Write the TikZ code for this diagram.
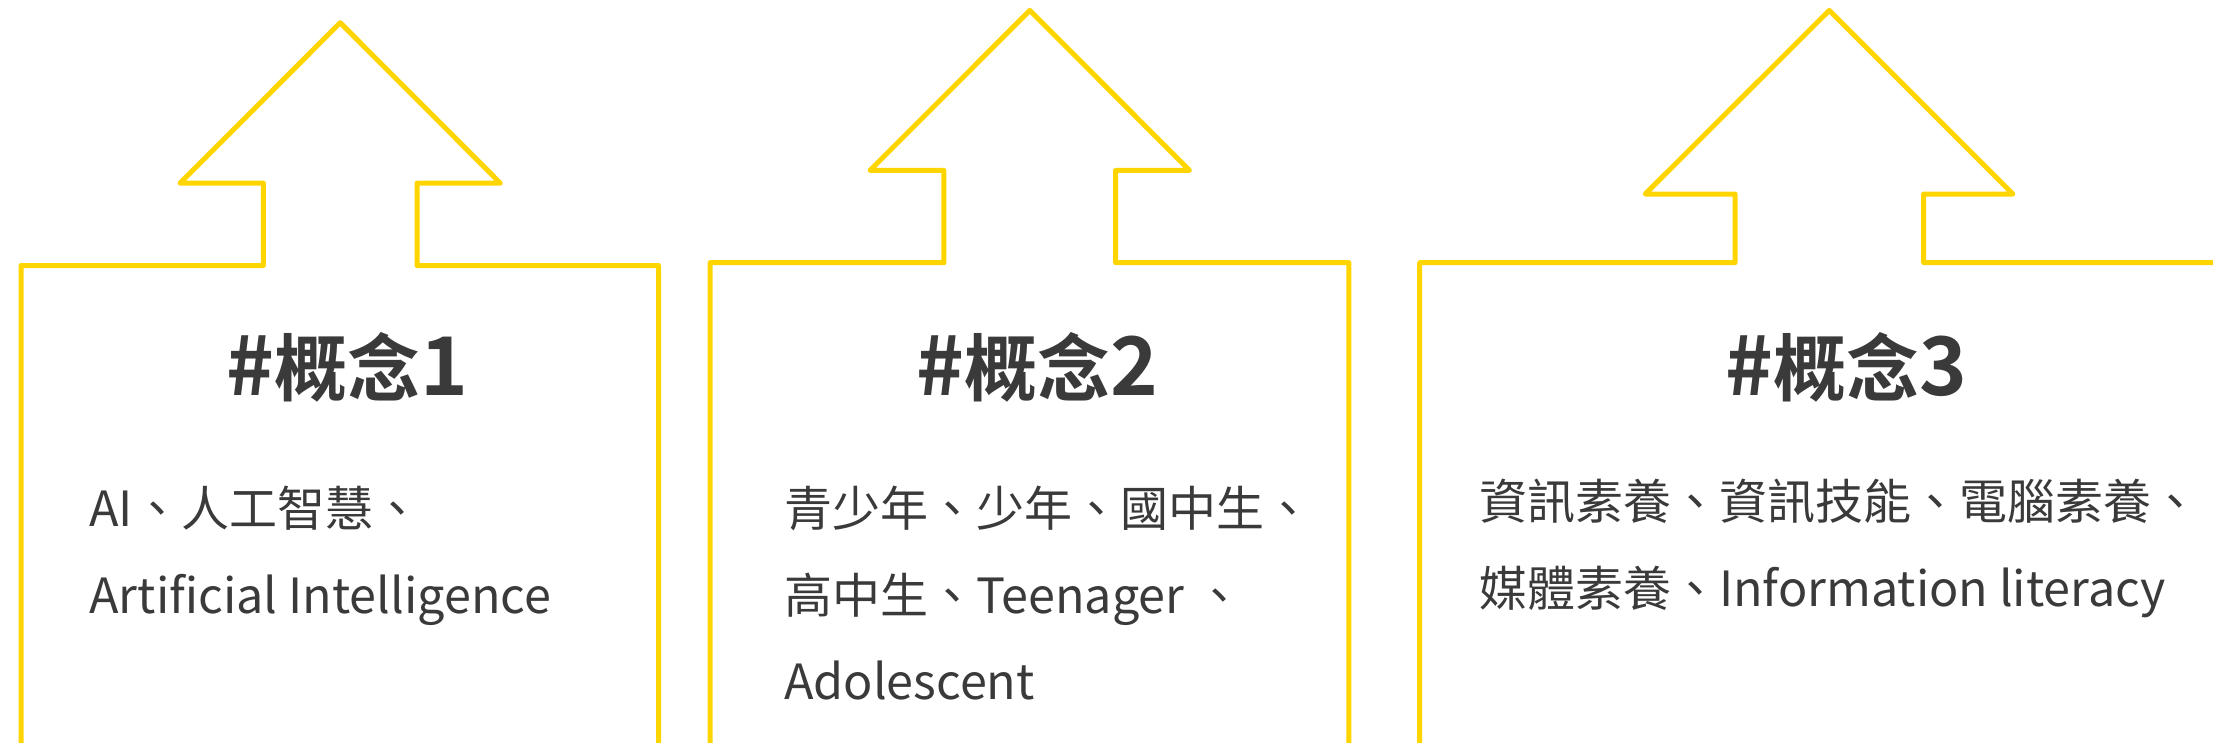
\documentclass[tikz,border=0pt]{standalone}
\usepackage{fontspec}
\newfontfamily\cjk{Noto Sans CJK TC}[BoldFont={Noto Sans CJK TC Bold}]
\newcommand\latn[1]{{\fontsize{48.5}{60}\selectfont #1}}
\newcommand\tlatn[1]{{\fontsize{81}{90}\selectfont #1}}
\definecolor{gold}{HTML}{FFD500}
\definecolor{ink}{HTML}{3A3A3A}
\begin{document}
\begin{tikzpicture}[x=1pt,y=-1pt,
  outline/.style={draw=gold,line width=5pt,line join=round,line cap=round},
  title/.style={anchor=base,text=ink,inner sep=0pt,font=\cjk\bfseries\fontsize{73}{80}\selectfont},
  body/.style={anchor=base west,text=ink,inner sep=0pt,font=\cjk\fontsize{48}{60}\selectfont}]
\useasboundingbox (0,0) rectangle (2213,742);
\clip (0,0) rectangle (2213,742);
% arrows
\draw[outline] (21,780) -- (21,265.5) -- (263.4,265.5) -- (263.4,183.2) -- (180,183.2) -- (340.2,22.7) -- (500.4,183.2) -- (417,183.2) -- (417,265.5) -- (658.5,265.5) -- (658.5,780);
\draw[outline] (710.2,780) -- (710.2,262.7) -- (943.9,262.7) -- (943.9,170.4) -- (870,170.4) -- (1029.8,10.4) -- (1189.5,170.4) -- (1115.6,170.4) -- (1115.6,262.7) -- (1348.9,262.7) -- (1348.9,780);
\draw[outline] (1419.7,780) -- (1419.7,262.7) -- (1735,262.7) -- (1735,194) -- (1645.2,194) -- (1829.3,10.4) -- (2012.9,194) -- (1923.7,194) -- (1923.7,262.7) -- (2240,262.7);
% titles
\node[title] (h1) at (347.6,395) {\tlatn{\#}概念\tlatn{1}};
\node[title] (h2) at (1037,395) {\tlatn{\#}概念\tlatn{2}};
\node[title] (h3) at (1846.7,395) {\tlatn{\#}概念\tlatn{3}};
% bodies
\node[body] (b1a) at (89.3,526.3) {\latn{AI}、人工智慧、};
\node[body] (b1b) at (89.3,613.3) {\latn{Artificial Intelligence}};
\node[body] (b2a) at (784,526.3) {青少年、少年、國中生、};
\node[body] (b2b) at (784,613.3) {高中生、\latn{Teenager }、};
\node[body] (b2c) at (784,699) {\latn{Adolescent}};
\node[body] (b3a) at (1478.8,519.6) {資訊素養、資訊技能、電腦素養、};
\node[body] (b3b) at (1478.8,606.5) {媒體素養、\latn{Information literacy}};
\end{tikzpicture}
\end{document}
